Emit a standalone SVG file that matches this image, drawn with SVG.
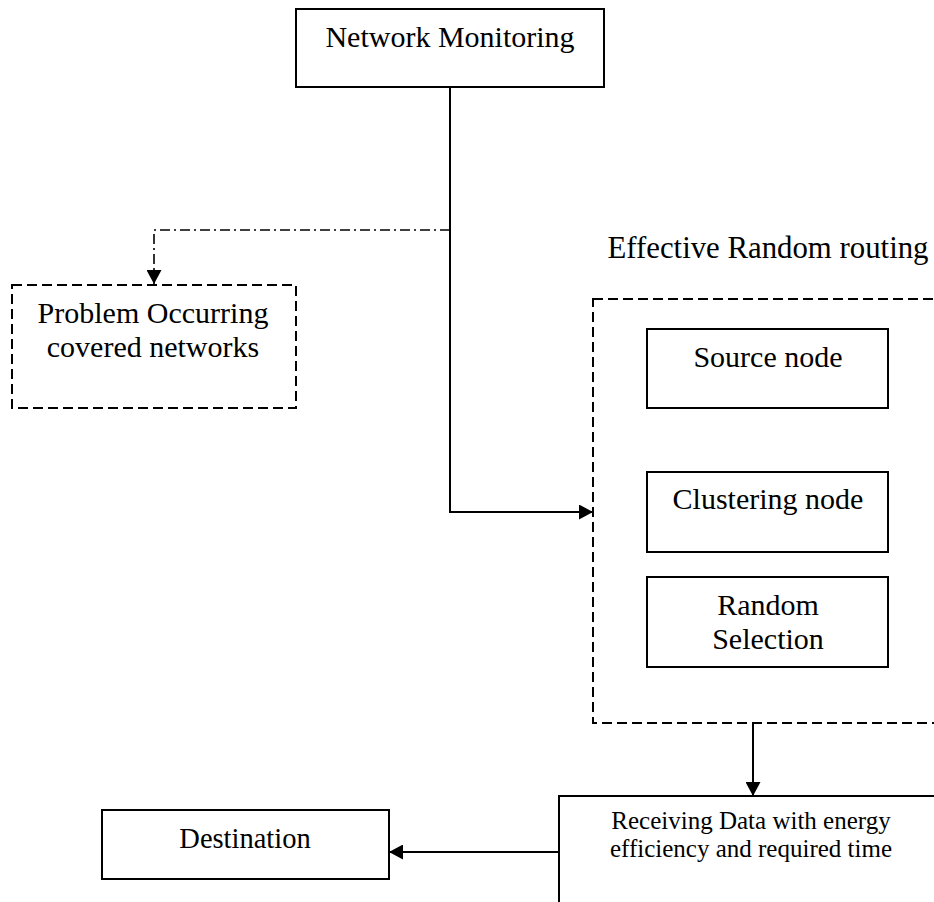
<svg xmlns="http://www.w3.org/2000/svg" width="934" height="902" viewBox="0 0 934 902">
  <style>
    .box { fill: #fff; stroke: #000; stroke-width: 2; }
    .dash { fill: none; stroke: #000; stroke-width: 2; stroke-dasharray: 10 5; }
    .wire { fill: none; stroke: #000; stroke-width: 2; }
    .dashdot { fill: none; stroke: #000; stroke-width: 1.6; stroke-dasharray: 10 4 2 4; }
    text { font-family: "Liberation Serif", "Times New Roman", serif; fill: #000; text-anchor: middle; }
    .t30 { font-size: 30px; }
    .t31 { font-size: 30.8px; }
    .t28 { font-size: 28.5px; }
    .t25 { font-size: 25px; }
  </style>
  <defs>
    <marker id="arrow" viewBox="0 0 14 15" refX="14" refY="7.5" markerWidth="14" markerHeight="15" markerUnits="userSpaceOnUse" orient="auto">
      <path d="M0,0 L14,7.5 L0,15 Z" fill="#000"/>
    </marker>
  </defs>

  <g id="connectors">
    <!-- monitoring trunk down to routing block -->
    <polyline class="wire" points="450,87 450,512 593,512" marker-end="url(#arrow)"/>
    <!-- dash-dot branch to problem box -->
    <polyline class="dashdot" points="450,230 154,230 154,284" marker-end="url(#arrow)"/>
    <!-- routing block to receiving -->
    <line class="wire" x1="753" y1="724" x2="753" y2="796" marker-end="url(#arrow)"/>
    <!-- receiving to destination -->
    <line class="wire" x1="559" y1="852" x2="389" y2="852" marker-end="url(#arrow)"/>
  </g>

  <g id="network-monitoring">
    <rect class="box" x="296" y="9" width="308" height="78"/>
    <text class="t30" x="450" y="47">Network Monitoring</text>
  </g>

  <g id="problem-occurring">
    <rect class="dash" x="12" y="285" width="284" height="123"/>
    <text class="t30" x="153" y="323">Problem Occurring</text>
    <text class="t30" x="153" y="357">covered networks</text>
  </g>

  <g id="effective-random-routing">
    <text class="t31" x="768" y="258">Effective Random routing</text>
    <rect class="dash" x="593" y="299" width="360" height="424"/>
  </g>

  <g id="source-node">
    <rect class="box" x="647" y="329" width="241" height="79"/>
    <text class="t30" x="768" y="367">Source node</text>
  </g>

  <g id="clustering-node">
    <rect class="box" x="647" y="472" width="241" height="80"/>
    <text class="t30" x="768" y="509">Clustering node</text>
  </g>

  <g id="random-selection">
    <rect class="box" x="647" y="577" width="241" height="90"/>
    <text class="t30" x="768" y="615">Random</text>
    <text class="t30" x="768" y="649">Selection</text>
  </g>

  <g id="receiving-data">
    <rect class="box" x="559" y="796" width="400" height="120"/>
    <text class="t25" x="751" y="829">Receiving Data with energy</text>
    <text class="t25" x="751" y="857">efficiency and required time</text>
  </g>

  <g id="destination">
    <rect class="box" x="102" y="810" width="287" height="69"/>
    <text class="t28" x="245" y="848">Destination</text>
  </g>
</svg>
